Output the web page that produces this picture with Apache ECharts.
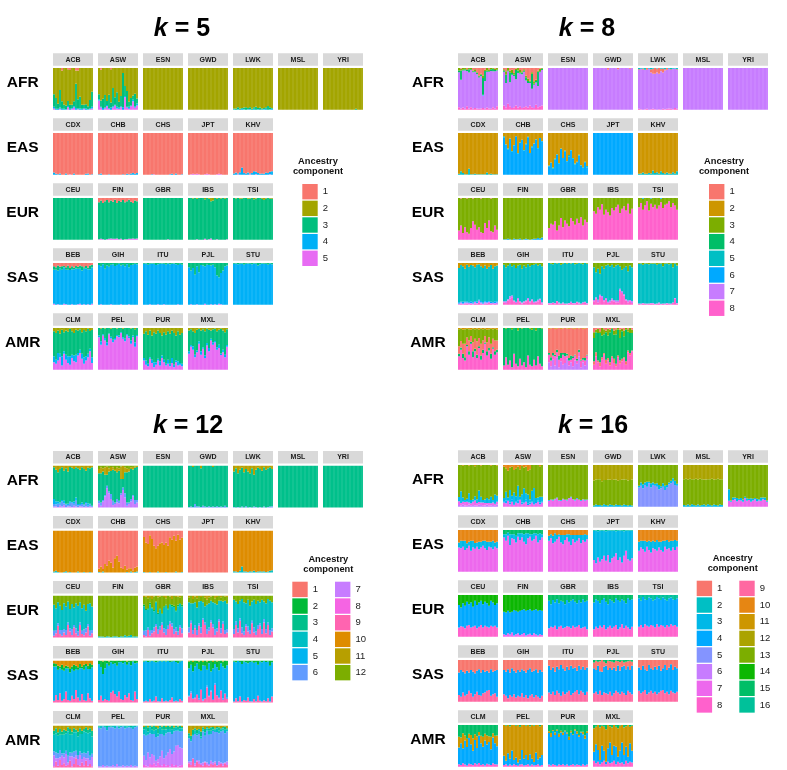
<!DOCTYPE html>
<html><head><meta charset="utf-8">
<style>html,body{margin:0;background:#fff}#c{width:787px;height:770px;filter:blur(0.45px)}</style>
<script src="https://cdn.jsdelivr.net/npm/echarts@6/dist/echarts.min.js"></script>
</head><body><div id="c"></div>
<script>
// Population labels per row and group names
const groups = ['AFR','EAS','EUR','SAS','AMR'];
const popAFR = ['ACB','ASW','ESN','GWD','LWK','MSL','YRI'];
const popEAS = ['CDX','CHB','CHS','JPT','KHV'];
const popEUR = ['CEU','FIN','GBR','IBS','TSI'];
const popSAS = ['BEB','GIH','ITU','PJL','STU'];
const popAMR = ['CLM','PEL','PUR','MXL'];
const popOrder = [...popAFR,...popEAS,...popEUR,...popSAS,...popAMR];

// Component colours per k
const colorsK5  = ['#F8766D','#A3A500','#00BF7D','#00B0F6','#E76BF3'];
const colorsK8  = ['#F8766D','#CD9600','#7CAE00','#00BE67','#00BFC4','#00A9FF','#C77CFF','#FF61CC'];
const colorsK12 = ['#F8766D','#00BA38','#00C08B','#00BFC4','#00B4F0','#619CFF','#C77CFF','#F564E3','#FF64B0','#DE8C00','#B79F00','#7CAE00'];
const colorsK16 = ['#F8766D','#00BFC4','#00B8E7','#00A9FF','#8494FF','#C77CFF','#ED68ED','#FF61CC','#FF68A1','#E68613','#CD9600','#ABA300','#7CAE00','#0CB702','#00BE67','#00C19A'];

// Each panel: rows from bottom to top, [component, percent per individual...].
// A row holding only its component takes whatever the other rows leave.
// k = 5
const k5_ACB=[[5,3,0,0,2,0,0,0,6,0,2,5,0,1,0,0,2,0,0,1,3],[4,4,2,2,3,2,2,1,3,2,2,3,4,2,3,2,2,3,1,2,4],[3,30,26,12,42,18,10,9,12,10,8,12,58,22,28,10,8,10,7,20,36],[2],[1,0,0,0,0,6,0,0,3,5,0,0,6,6,0,0,0,0,0,0,0]];
const k5_ASW=[[5,22,5,0,3,8,2,0,5,10,3,2,6,0,30,5,2,8,20,5,10],[4,3,2,4,2,3,2,5,3,2,4,3,2,6,3,2,5,2,4,3,5],[3,12,15,22,30,10,32,12,44,18,35,14,25,82,24,38,12,18,10,30,12],[2],[1,0,4,0,0,0,0,3,0,0,0,0,0,0,0,0,0,0,0,0,0]];
const k5_ESN=[[2]];
const k5_GWD=[[2]];
const k5_LWK=[[4,1,0,1,0,2,1,0,1,1,0,2,0,1,0,1,1,2,0,1,2],[3,2,3,5,3,2,4,6,3,5,2,4,7,3,5,2,3,4,9,5,2],[2]];
const k5_MSL=[[2]];
const k5_YRI=[[3,0,0,0,0,0,0,0,0,0,0,0,0,0,0,0,0,2,0,0,0],[2]];
const k5_CDX=[[5,0,0,0,0,0,0,0,0,1,0,0,0,0,0,0,0,0,0,0,0],[4,5,2,1,3,0,0,3,0,0,0,3,0,0,0,0,0,2,3,0,1],[1]];
const k5_CHB=[[4,1,3,0,0,0,1,0,0,0,0,0,0,1,0,2,1,3,4,2,4],[1]];
const k5_CHS=[[5,0,0,0,0,0,1,0,0,0,0,0,0,0,0,0,0,0,0,0,0],[4,0,0,0,0,1,0,0,0,0,0,0,0,0,1,2,0,3,0,0,1],[1]];
const k5_JPT=[[5,0,1,2,1,2,1,0,0,1,2,1,0,0,0,1,2,1,0,0,0],[1]];
const k5_KHV=[[5,0,0,1,0,0,0,0,0,1,0,0,1,0,0,0,0,0,0,1,0],[4,3,5,2,6,17,4,3,5,2,4,8,6,4,2,3,2,5,4,6,8],[1]];
const k5_CEU=[[3]];
const k5_FIN=[[5,1,2,1,0,1,2,3,2,2,3,1,2,0,1,1,2,2,3,2,3],[3],[1,10,6,12,8,5,10,6,9,4,12,7,9,5,10,8,4,9,12,6,8]];
const k5_GBR=[[5,0,0,0,0,0,0,0,0,0,0,0,0,1,0,0,0,0,0,0,0],[3]];
const k5_IBS=[[5,0,0,0,0,1,0,0,0,2,0,1,3,0,0,1,0,0,0,0,1],[3],[2,0,0,1,0,2,0,0,0,3,0,2,8,6,0,2,0,1,0,2,0]];
const k5_TSI=[[3],[2,0,1,0,2,1,0,0,2,1,0,3,1,0,0,2,5,1,0,1,2]];
const k5_BEB=[[5,2,0,1,0,0,2,1,0,0,1,0,0,1,2,0,1,0,1,0,2],[4],[3,8,6,12,5,8,4,6,10,5,7,4,6,5,8,10,4,6,4,9,6],[1,8,10,6,9,8,7,10,6,12,8,11,7,9,6,8,10,7,11,6,5]];
const k5_GIH=[[5,0,1,0,0,0,0,1,0,0,0,0,1,0,0,0,1,0,0,0,0],[4],[3,5,8,3,14,6,9,4,3,7,5,2,6,4,8,3,10,5,4,2,3]];
const k5_ITU=[[5,0,0,0,1,0,0,0,1,0,0,1,0,0,0,0,0,0,1,0,0],[4],[3,2,1,4,2,1,2,5,3,2,1,2,4,1,3,2,1,3,5,2,4]];
const k5_PJL=[[5,0,1,0,0,1,0,0,0,2,0,0,1,0,1,0,2,1,0,0,0],[4],[3,10,18,12,28,8,22,5,6,8,4,5,6,4,10,30,34,24,18,8,6]];
const k5_STU=[[4],[3,2,1,3,2,1,4,2,1,2,3,1,2,6,3,1,2,2,4,1,3]];
const k5_CLM=[[5,18,14,22,30,10,38,24,16,12,28,20,18,34,40,26,14,22,30,44,16],[4,14,10,18,8,22,6,12,16,20,8,14,18,6,8,12,16,10,8,6,14],[3],[2,8,12,6,14,4,10,6,9,2,8,12,4,6,3,10,5,8,2,7,5]];
const k5_PEL=[[5,78,60,82,70,58,85,75,66,72,80,78,88,74,68,82,76,62,78,55,80],[4,4,8,3,6,8,2,4,6,4,3,4,2,4,6,3,4,8,4,10,3],[3],[2,0,2,0,1,0,0,2,0,0,1,0,0,2,0,0,0,1,0,3,0]];
const k5_PUR=[[5,22,12,8,26,16,6,12,22,10,28,18,10,14,8,16,6,18,10,12,8],[4,6,10,6,4,8,12,6,4,10,6,6,4,10,6,12,6,4,10,4,6],[3],[2,14,8,16,6,18,10,14,6,12,18,10,16,8,14,6,12,18,8,16,12]];
const k5_MXL=[[5,38,55,48,30,42,62,36,50,28,58,44,70,60,65,48,52,35,42,30,55],[4,6,4,8,6,4,6,8,4,6,6,8,4,6,4,6,8,4,6,6,4],[3],[2,6,3,8,12,4,2,6,3,8,2,4,6,3,2,8,4,2,6,10,3]];
const k5Panels=[k5_ACB,k5_ASW,k5_ESN,k5_GWD,k5_LWK,k5_MSL,k5_YRI,k5_CDX,k5_CHB,k5_CHS,k5_JPT,k5_KHV,k5_CEU,k5_FIN,k5_GBR,k5_IBS,k5_TSI,k5_BEB,k5_GIH,k5_ITU,k5_PJL,k5_STU,k5_CLM,k5_PEL,k5_PUR,k5_MXL];
// k = 8
const k8_ACB=[[8,6,3,5,2,8,3,6,2,4,3,2,3,4,2,5,3,2,6,3,8],[7],[6,0,0,0,0,0,0,0,0,0,0,0,0,2,0,0,0,0,0,0,0],[4,4,22,2,3,2,8,2,2,2,3,3,4,40,24,3,2,4,6,3,2],[3,6,4,4,3,2,3,3,2,4,2,2,2,6,3,6,4,3,2,3,4],[1,0,2,0,0,3,0,0,6,3,10,18,14,18,4,0,3,0,0,2,0]];
const k8_ASW=[[8,10,6,14,8,4,6,10,5,8,4,6,8,5,10,6,4,12,6,8,10],[7],[4,3,20,2,24,4,3,22,6,2,4,3,8,5,3,36,2,4,34,2,3],[3,3,8,6,4,8,4,3,6,6,3,3,4,6,3,4,6,3,3,6,2],[1,3,8,0,6,4,12,2,0,5,8,3,18,25,30,10,32,28,6,2,0]];
const k8_ESN=[[7]];
const k8_GWD=[[7],[1,0,0,0,0,0,0,0,4,0,0,0,0,3,0,0,0,0,0,2,0]];
const k8_LWK=[[8,2,1,0,1,2,0,1,2,1,0,1,0,2,1,2,3,2,1,4,2],[7],[1,2,0,3,0,4,0,8,12,14,10,14,6,10,3,4,0,2,0,0,2],[5,3,2,1,4,0,2,3,2,0,1,0,2,1,3,0,2,3,2,1,3]];
const k8_MSL=[[7]];
const k8_YRI=[[7]];
const k8_CDX=[[5,2,8,4,1,1,14,1,1,2,1,1,1,1,1,5,1,2,1,1,1],[2]];
const k8_CHB=[[6,90,72,60,86,55,70,92,50,76,84,58,72,90,52,66,74,84,62,88,80],[5,2,1,3,1,2,1,0,2,1,0,1,2,1,0,2,1,1,2,0,1],[2]];
const k8_CHS=[[6,20,28,14,36,48,26,62,40,56,32,44,58,38,24,30,46,22,16,30,18],[5,2,1,3,2,1,2,1,0,2,1,3,1,2,3,1,2,1,2,1,3],[2]];
const k8_JPT=[[6]];
const k8_KHV=[[5,2,3,5,2,2,4,3,10,4,6,3,8,4,2,5,3,2,6,3,8],[2]];
const k8_CEU=[[8,22,34,16,30,18,14,28,44,36,24,30,18,16,40,28,46,20,18,34,24],[3],[1,0,1,0,0,1,0,0,1,0,0,0,1,0,0,0,0,1,0,0,0]];
const k8_FIN=[[6,1,1,2,1,0,2,1,1,2,0,1,2,1,0,1,2,2,4,3,5],[3]];
const k8_GBR=[[8,28,38,36,44,22,34,52,30,46,38,32,52,44,36,50,40,54,34,48,42],[3]];
const k8_IBS=[[8,68,62,78,72,85,60,72,66,58,76,70,78,84,64,74,80,70,86,62,74],[3]];
const k8_TSI=[[8,78,88,72,82,92,70,86,78,84,74,82,90,76,84,86,92,78,88,82,72],[3],[6,0,0,2,0,0,0,1,0,0,0,0,2,0,0,0,0,0,0,0,0]];
const k8_BEB=[[8,1,2,1,2,3,1,2,1,3,2,6,2,1,2,3,4,2,1,2,1],[7,2,3,2,3,2,3,2,2,4,2,4,3,2,4,2,3,2,3,2,4],[6,3,2,4,2,3,2,4,3,2,3,2,4,3,2,4,2,3,2,4,3],[5],[2,12,5,8,14,4,9,5,6,10,4,3,8,12,6,14,9,5,14,8,6]];
const k8_GIH=[[8,6,4,10,14,18,8,4,12,6,3,5,8,12,6,10,4,6,8,12,3],[7,2,4,3,6,4,2,3,4,2,2,3,2,4,2,3,3,2,4,2,3],[5],[3,4,10,6,2,8,5,12,6,4,14,6,10,3,8,5,4,2,6,3,8]];
const k8_ITU=[[8,3,2,4,2,8,3,2,3,2,1,3,4,3,2,6,3,2,4,6,2],[7,1,2,1,2,1,2,1,2,1,2,1,3,1,2,1,2,1,2,1,2],[5],[3,0,2,3,0,1,0,4,2,0,2,0,1,0,3,2,0,1,3,0,2]];
const k8_PJL=[[8,8,14,6,20,16,8,12,4,6,10,8,6,6,34,28,22,10,6,8,4],[7,3,4,6,4,5,3,4,3,4,5,3,4,4,4,4,3,3,4,3,5],[5],[3,10,22,14,26,8,14,6,4,8,4,10,6,4,8,16,12,8,20,6,10]];
const k8_STU=[[8,2,1,3,2,1,2,3,2,1,2,3,1,2,1,3,2,1,4,14,3],[7,1,2,1,1,2,1,1,2,1,1,2,1,1,2,1,1,2,1,2,1],[5],[3,2,1,4,1,2,3,1,2,1,4,2,1,8,2,1,3,1,10,1,6]];
const k8_CLM=[[8,32,48,28,22,56,36,62,30,44,28,52,24,40,62,34,46,26,50,36,42],[4,6,5,10,8,3,8,5,14,6,8,4,10,8,3,10,6,12,4,8,6],[1,18,16,24,32,18,26,14,22,24,32,20,28,22,16,22,26,24,20,26,22],[3],[2,3,2,4,3,2,3,4,2,3,2,4,2,3,2,4,3,2,3,2,4]];
const k8_PEL=[[8,10,30,12,22,6,38,14,8,26,10,18,6,34,12,8,24,10,32,14,8],[4],[3,0,2,0,0,3,0,0,6,0,2,0,0,0,2,4,0,6,0,0,2]];
const k8_PUR=[[7,18,8,24,10,30,6,20,12,16,26,10,18,8,22,14,32,6,18,10,24],[8,18,14,10,22,12,18,8,24,16,8,12,6,20,12,8,10,16,6,12,10],[4,4,8,6,4,6,10,12,4,8,4,6,10,4,2,4,6,2,4,6,2],[1],[2,2,1,0,2,1,0,2,1,0,1,2,0,1,2,0,1,0,2,1,0]];
const k8_MXL=[[8,12,32,18,8,24,36,14,22,10,28,16,8,30,14,20,26,12,42,34,44],[1,8,10,4,10,6,4,10,6,8,4,10,6,4,8,6,4,8,4,6,2],[4],[3,14,6,10,4,18,12,4,16,6,2,10,12,4,20,6,14,4,6,12,8],[1,10,4,2,8,0,3,6,2,4,0,6,3,0,4,2,6,0,3,0,4]];
const k8Panels=[k8_ACB,k8_ASW,k8_ESN,k8_GWD,k8_LWK,k8_MSL,k8_YRI,k8_CDX,k8_CHB,k8_CHS,k8_JPT,k8_KHV,k8_CEU,k8_FIN,k8_GBR,k8_IBS,k8_TSI,k8_BEB,k8_GIH,k8_ITU,k8_PJL,k8_STU,k8_CLM,k8_PEL,k8_PUR,k8_MXL];
// k = 12
const k12_ACB=[[7,2,3,1,4,2,6,1,2,3,1,4,2,1,3,2,1,2,1,2,1],[6,6,4,8,5,12,4,6,4,8,10,5,14,4,3,6,4,8,3,5,2],[5,12,8,5,3,4,6,2,3,4,2,5,8,3,2,4,2,3,6,2,1],[3],[11,4,10,16,8,4,12,6,14,3,5,8,4,6,10,4,8,12,5,6,4]];
const k12_ASW=[[7,10,4,14,26,46,34,20,6,8,12,10,30,42,24,4,8,14,26,8,12],[6,6,8,4,4,6,4,12,10,4,8,6,4,6,10,8,4,6,4,10,6],[3],[11,10,14,8,18,20,8,10,6,4,12,6,30,32,12,10,6,4,6,3,2],[12,8,4,6,4,2,6,3,4,8,4,6,2,0,4,6,8,4,3,2,1]];
const k12_ESN=[[3]];
const k12_GWD=[[6,1,2,1,8,3,2,1,4,2,1,3,1,2,1,3,1,2,1,4,1],[3],[11,0,0,3,0,0,0,6,0,0,0,0,0,3,0,0,0,0,0,0,0]];
const k12_LWK=[[6,1,0,1,0,2,0,3,0,1,0,2,1,0,1,0,2,0,1,2,3],[3],[11,14,6,18,10,5,16,8,14,18,6,22,10,5,8,12,4,10,6,4,8]];
const k12_MSL=[[3]];
const k12_YRI=[[3]];
const k12_CDX=[[4,2,4,1,0,0,1,3,0,1,0,0,0,2,0,0,1,0,0,1,0],[10]];
const k12_CHB=[[4,1,0,2,0,0,0,0,0,0,0,0,0,0,0,1,0,2,0,1,2],[10,8,14,6,20,16,28,24,12,34,40,26,12,8,16,6,10,8,5,10,12],[1]];
const k12_CHS=[[4,1,0,0,1,0,0,0,2,0,0,0,1,0,0,0,0,2,0,0,1],[10,84,72,68,88,80,64,58,62,70,72,66,70,64,84,78,88,74,90,78,82],[1]];
const k12_JPT=[[1]];
const k12_KHV=[[4,3,2,1,4,14,3,2,1,3,2,4,1,2,3,2,3,1,2,4,5],[10]];
const k12_CEU=[[9,4,10,28,8,4,12,6,30,14,6,24,10,4,30,8,5,12,26,4,10],[6,12,8,6,10,14,8,12,6,8,14,6,12,10,6,8,14,10,6,12,8],[4],[12,22,30,16,24,34,18,26,14,32,20,28,18,24,16,30,22,36,20,18,26]];
const k12_FIN=[[4,3,2,2,1,3,2,1,2,3,2,1,3,2,5,3,4,6,2,3,2],[12]];
const k12_GBR=[[9,6,3,18,4,10,14,26,8,18,30,12,6,20,32,26,8,14,6,24,10],[6,10,14,6,12,8,10,6,12,8,6,10,14,8,6,8,12,10,8,6,12],[4],[2,4,2,3,4,2,3,2,4,3,2,4,2,3,2,4,3,2,3,2,4],[12,18,30,24,14,20,32,14,36,28,42,22,16,30,18,14,24,32,20,14,22],[11,3,2,6,3,8,2,0,4,2,0,3,6,0,2,8,0,3,2,4,0]];
const k12_IBS=[[9,12,34,8,22,6,28,10,42,30,8,16,36,24,6,14,38,10,32,8,12],[6,12,6,10,8,12,6,14,4,6,12,8,6,8,14,8,6,12,6,10,8],[4],[12,12,18,10,14,22,14,10,16,20,12,14,10,16,12,18,12,8,14,10,16],[11,4,0,8,2,6,0,3,0,5,10,4,2,0,6,3,0,4,0,2,3]];
const k12_TSI=[[9,8,30,12,40,10,6,26,14,8,34,12,6,20,28,8,36,10,30,6,14],[6,12,8,10,6,14,8,6,12,10,6,12,8,10,6,12,8,10,6,12,8],[4],[12,10,14,20,12,8,16,18,10,24,14,10,20,12,16,10,14,18,8,12,16]];
const k12_BEB=[[9,4,18,6,22,4,8,26,6,4,16,8,30,12,4,20,6,4,22,10,4],[5],[2,8,6,10,4,12,8,6,5,10,6,14,8,6,10,4,12,6,8,14,6],[10,6,8,12,14,10,16,12,14,18,14,10,12,16,8,14,10,8,12,6,10]];
const k12_GIH=[[9,6,16,4,8,6,4,24,28,20,14,26,8,6,18,12,22,6,4,26,8],[5],[2,8,14,30,18,6,10,4,8,5,12,4,2,6,3,8,4,10,2,6,4],[11,0,1,2,0,1,2,0,0,1,0,0,1,0,0,2,0,1,0,0,1]];
const k12_ITU=[[9,2,4,2,8,2,4,14,3,2,10,2,4,2,6,12,2,4,2,8,4],[5],[2,2,1,3,2,1,2,4,2,1,2,1,2,1,3,2,1,3,6,2,1]];
const k12_PJL=[[9,14,22,8,10,18,6,30,4,8,36,14,26,6,42,16,10,28,6,20,8],[6,2,4,2,3,2,4,2,3,2,4,2,3,2,4,2,3,2,4,2,3],[5],[2,16,10,22,14,6,18,24,8,12,20,5,26,16,8,14,22,6,12,18,10],[11,2,0,3,0,1,2,0,3,0,2,1,0,3,0,2,1,0,2,0,1]];
const k12_STU=[[9,2,10,3,14,2,6,4,12,3,2,8,3,16,4,2,5,3,10,2,14],[5],[2,2,4,1,3,8,2,4,6,3,2,5,3,10,2,4,1,3,2,12,4]];
const k12_CLM=[[9,3,14,4,18,6,10,4,6,16,3,8,22,6,4,12,5,16,4,8,3],[7,26,8,18,6,22,14,28,6,10,24,16,6,14,26,8,20,6,18,10,22],[6,10,14,12,18,6,10,8,16,10,8,14,12,10,8,14,10,12,16,10,8],[4],[3,10,12,8,14,8,12,6,10,14,8,10,6,12,14,8,6,12,8,10,14],[11,12,6,16,8,14,10,12,4,8,14,6,10,14,6,12,8,4,10,6,12]];
const k12_PEL=[[7,3,2,6,2,4,2,3,6,2,8,3,2,5,2,4,3,6,2,4,3],[6],[4,3,6,2,4,8,3,2,4,6,2,5,3,2,6,3,4,2,8,3,2],[3,2,1,0,1,3,0,2,0,1,0,2,1,0,1,2,0,3,0,1,0]];
const k12_PUR=[[8,6,4,2,8,6,10,4,12,6,4,8,4,6,2,8,4,6,2,4,6],[7,22,14,34,16,26,18,12,8,20,36,14,24,30,42,24,34,46,52,44,40],[6],[4,12,16,8,14,10,8,18,8,16,10,14,10,8,8,10,6,8,4,8,6],[3,6,8,10,4,8,12,6,12,4,8,10,6,8,6,10,4,4,6,6,4],[11,3,0,4,0,2,0,3,6,0,2,0,3,0,2,0,4,0,2,0,3]];
const k12_MXL=[[9,10,6,20,4,14,8,6,4,12,6,4,8,6,10,4,6,8,4,10,6],[7,4,8,2,6,4,8,4,8,2,6,4,8,6,4,2,8,4,6,2,8],[6],[4,6,5,4,8,5,8,5,4,8,5,10,8,4,5,8,6,4,5,8,4],[3,6,8,10,6,8,4,12,6,8,4,6,8,6,4,4,8,4,4,8,4],[11,18,24,10,6,10,8,14,4,8,3,6,4,3,6,3,4,6,3,2,6]];
const k12Panels=[k12_ACB,k12_ASW,k12_ESN,k12_GWD,k12_LWK,k12_MSL,k12_YRI,k12_CDX,k12_CHB,k12_CHS,k12_JPT,k12_KHV,k12_CEU,k12_FIN,k12_GBR,k12_IBS,k12_TSI,k12_BEB,k12_GIH,k12_ITU,k12_PJL,k12_STU,k12_CLM,k12_PEL,k12_PUR,k12_MXL];
// k = 16
const k16_ACB=[[6,4,2,6,3,2,5,2,4,3,2,6,4,2,3,5,2,3,4,2,5],[7,9,7,6,8,10,5,6,8,12,7,5,6,8,6,4,7,5,6,5,7],[3,10,28,10,5,7,22,8,5,10,9,28,14,6,8,12,9,16,6,22,14],[13],[11,0,0,2,0,0,2,0,0,3,0,0,2,0,0,0,0,2,0,0,2]];
const k16_ASW=[[7,10,8,14,6,12,4,10,8,16,6,8,12,4,6,10,5,8,12,6,10],[4,3,6,2,4,6,2,3,6,2,4,2,6,3,4,2,6,3,2,4,2],[3,8,22,6,30,8,28,12,36,6,20,34,14,22,8,26,34,10,8,14,12],[13],[10,4,8,14,6,4,12,8,4,10,2,6,4,14,10,0,0,0,0,3,0]];
const k16_ESN=[[7,14,16,15,18,20,15,14,18,16,15,20,22,17,15,19,16,14,17,15,16],[3,2,1,2,1,2,1,2,1,1,2,1,2,1,2,2,1,2,1,2,1],[13]];
const k16_GWD=[[3,3,5,4,4,3,6,4,3,5,4,3,5,4,4,3,5,4,3,4,3],[13,60,60,62,62,58,58,60,62,60,60,62,60,58,60,62,60,62,60,60,62],[12]];
const k16_LWK=[[5,46,50,44,52,48,56,46,52,50,48,42,44,48,40,46,54,56,60,52,50],[3,4,8,10,6,12,4,10,6,5,8,10,5,8,10,6,4,6,8,10,5],[13]];
const k16_MSL=[[3,4,3,5,3,6,4,3,5,3,4,5,3,6,4,3,5,4,3,5,4],[13,62,64,60,64,60,62,64,60,64,62,60,62,60,62,64,60,62,64,60,62],[12]];
const k16_YRI=[[7,14,12,16,18,13,16,15,12,20,14,16,12,15,18,13,15,14,18,16,12],[3,28,3,6,4,8,3,6,5,4,6,3,8,4,3,6,3,8,4,6,3],[13]];
const k16_CDX=[[7,58,56,60,52,56,62,50,58,55,60,54,58,62,56,52,60,58,54,60,56],[3,12,18,14,22,12,10,24,16,14,10,18,14,12,18,20,12,14,20,10,16],[10]];
const k16_CHB=[[7,82,74,86,64,80,78,70,84,76,82,72,66,80,84,74,78,86,70,76,82],[3,8,16,8,26,10,12,16,8,16,10,18,26,12,6,16,14,6,20,16,8],[15]];
const k16_CHS=[[7,74,80,68,72,78,84,70,66,76,82,72,64,78,70,74,80,68,76,72,78],[3,12,10,18,20,10,6,18,22,12,8,18,24,10,18,14,8,20,12,18,10],[10]];
const k16_JPT=[[7,28,20,34,24,30,38,26,40,22,32,36,44,28,34,22,38,50,30,26,32],[3],[16,2,1,3,1,2,1,3,2,1,2,1,3,2,1,2,3,1,2,1,2]];
const k16_KHV=[[7,50,58,54,48,60,52,46,56,54,50,58,52,48,60,54,56,50,58,52,60],[3,22,16,20,26,12,22,26,18,18,26,14,20,26,14,22,16,24,16,24,14],[10]];
const k16_CEU=[[8,22,25,24,20,26,28,22,24,26,20,24,28,22,26,24,22,26,24,26,22],[4],[14,24,30,20,26,16,22,18,28,14,24,18,14,22,16,20,26,14,18,24,20]];
const k16_FIN=[[7,6,4,8,5,10,3,6,8,4,6,9,3,5,7,4,8,5,3,6,4],[4],[14,40,42,38,42,40,36,38,40,38,36,34,38,36,34,38,36,34,38,36,38]];
const k16_GBR=[[8,20,24,22,26,18,24,26,20,22,25,24,20,26,22,24,28,20,22,24,18],[4],[15,14,22,12,18,10,20,14,16,22,12,18,14,10,16,20,12,18,10,16,14]];
const k16_IBS=[[8,18,24,20,26,22,28,18,22,26,20,24,28,18,22,30,20,26,22,18,24],[4],[15,18,10,14,20,12,8,16,22,10,14,18,8,12,16,10,14,20,8,12,10]];
const k16_TSI=[[8,24,28,22,30,26,24,28,26,22,30,24,28,26,22,28,24,30,26,28,24],[4],[16,8,14,5,10,12,6,8,14,10,5,8,12,6,10,14,8,6,10,12,8]];
const k16_BEB=[[9,16,12,22,14,18,26,20,12,18,24,16,14,20,22,26,28,14,18,20,12],[4],[1,30,24,28,32,26,30,24,28,32,26,22,30,24,28,26,30,22,28,26,24]];
const k16_GIH=[[9,18,14,8,16,12,18,10,14,12,20,10,16,8,14,18,10,16,12,8,14],[4],[1,24,28,22,30,20,26,30,24,28,22,26,30,24,20,28,26,22,30,24,28]];
const k16_ITU=[[9,22,18,24,16,26,20,14,24,18,22,26,16,20,24,28,18,26,22,16,24],[4],[1,14,24,18,28,16,22,12,20,26,16,24,14,20,18,26,14,22,16,24,18]];
const k16_PJL=[[9,20,24,18,26,16,22,20,18,24,14,20,26,22,18,24,20,16,26,22,18],[4],[1,14,22,10,24,28,12,6,22,16,20,12,24,10,20,14,8,18,12,22,10],[15,6,2,4,3,0,4,8,2,3,4,6,2,3,5,2,6,4,3,2,4]];
const k16_STU=[[9,26,20,24,28,18,22,26,20,24,18,22,26,28,20,24,18,26,22,20,24],[4],[1,18,24,14,22,26,12,20,24,16,22,14,26,20,12,24,18,10,24,16,20]];
const k16_CLM=[[8,6,4,8,5,3,7,6,4,8,5,9,4,6,3,7,5,4,8,6,5],[4,40,52,36,58,44,62,48,34,56,40,66,52,42,60,46,54,38,62,50,44],[11,26,14,36,12,20,10,22,30,14,28,8,18,24,16,22,14,30,10,18,26],[15]];
const k16_PEL=[[8,4,6,2,5,3,6,4,2,5,6,3,4,6,2,5,3,4,6,2,4],[4,22,8,30,14,36,10,18,8,12,34,16,24,10,28,14,8,30,12,20,24],[11],[15,0,2,0,3,0,0,2,0,4,0,0,2,0,3,0,2,0,0,3,0]];
const k16_PUR=[[8,5,3,6,4,2,5,4,6,3,5,2,4,6,3,5,4,2,6,3,5],[4,76,68,80,72,84,66,78,70,82,74,62,78,70,84,74,68,80,72,64,76],[11,4,10,2,6,3,8,4,6,2,3,8,4,2,3,6,4,2,6,8,4],[15]];
const k16_MXL=[[8,14,8,12,6,10,14,6,12,8,10,14,6,12,8,10,6,14,8,12,10],[4,22,46,28,10,40,24,6,32,50,18,36,42,12,30,48,22,34,16,44,28],[11],[15,8,4,0,6,2,4,10,0,3,6,0,4,8,2,0,6,3,0,4,2]];
const k16Panels=[k16_ACB,k16_ASW,k16_ESN,k16_GWD,k16_LWK,k16_MSL,k16_YRI,k16_CDX,k16_CHB,k16_CHS,k16_JPT,k16_KHV,k16_CEU,k16_FIN,k16_GBR,k16_IBS,k16_TSI,k16_BEB,k16_GIH,k16_ITU,k16_PJL,k16_STU,k16_CLM,k16_PEL,k16_PUR,k16_MXL];

const individuals = [...Array(20).keys()];
const rowSizes = [7,5,5,5,4];
const PW=40, PH=41.7, DX=45.08, DY=65;

const layouts = [
 {key:'k5', title:'5', panels:k5Panels, colors:colorsK5,  x:52.7, y:68,    tx:182, ty:29,  gx:22.7, lt:[318,162], leg:[[302.3,184,1,5]]},
 {key:'k8', title:'8', panels:k8Panels, colors:colorsK8,  x:458,  y:68,    tx:587, ty:29,  gx:428,  lt:[724,162], leg:[[709,184,1,8]]},
 {key:'k12',title:'12',panels:k12Panels,colors:colorsK12, x:52.7, y:465.7, tx:188, ty:426.5, gx:22.7, lt:[328.3,560], leg:[[292.3,581.7,1,6],[335,581.7,7,12]]},
 {key:'k16',title:'16',panels:k16Panels,colors:colorsK16, x:458,  y:465,   tx:593, ty:426, gx:428,  lt:[732.7,559], leg:[[696.7,580.7,1,8],[739.3,580.7,9,16]]}
];

function lighten(hex){
  const n=parseInt(hex.slice(1),16), f=c=>Math.round(c+(255-c)*0.07);
  return `rgb(${f(n>>16&255)},${f(n>>8&255)},${f(n&255)})`;
}

const grids=[],xAxes=[],yAxes=[],series=[],titles=[],legends=[],strips=[];

// Empty legend-only series come first so each legend key takes its plain colour
layouts.forEach(L=>{
  L.colors.forEach((c,i)=>series.push({type:'line',name:`${L.key}:${i+1}`,data:[],xAxisIndex:0,yAxisIndex:0,itemStyle:{color:c,borderWidth:0},lineStyle:{color:c}}));
});

layouts.forEach(L=>{
  titles.push({text:`{i|k} = ${L.title}`,left:L.tx,top:L.ty,textAlign:'center',textVerticalAlign:'middle',padding:0,
    textStyle:{fontFamily:'Liberation Sans',fontSize:25,fontWeight:'bold',color:'#000',rich:{i:{fontFamily:'Liberation Sans',fontSize:25,fontWeight:'bold',fontStyle:'italic',color:'#000'}}}});
  titles.push({text:'Ancestry\ncomponent',left:L.lt[0],top:L.lt[1]+4.5,textAlign:'center',textVerticalAlign:'middle',padding:0,
    textStyle:{fontFamily:'Liberation Sans',fontSize:9.3,fontWeight:'bold',color:'#111',lineHeight:9.5}});
  let p=0;
  rowSizes.forEach((n,r)=>{
    const py=L.y+r*DY;
    titles.push({text:groups[r],left:L.gx,top:py+14.7,textAlign:'center',textVerticalAlign:'middle',padding:0,
      textStyle:{fontFamily:'Liberation Sans',fontSize:15.5,fontWeight:'bold',color:'#000'}});
    for(let c=0;c<n;c++,p++){
      const idx=grids.length, rows=L.panels[p], gl=Math.round(L.x+c*DX);
      grids.push({left:gl,top:py,width:PW,height:PH});
      strips.push({type:'rect',silent:true,z:-1,shape:{x:gl,y:py-14.7,width:PW,height:12.5},style:{fill:'#d9d9d9'}});
      xAxes.push({gridIndex:idx,type:'category',data:individuals,position:'top',
        name:popOrder[p],nameLocation:'middle',nameGap:8.4,
        nameTextStyle:{fontFamily:'Liberation Sans',fontSize:7,fontWeight:'bold',color:'#1a1a1a',verticalAlign:'middle'},
        axisLine:{show:false},axisTick:{show:false},axisLabel:{show:false},splitLine:{show:false}});
      yAxes.push({gridIndex:idx,type:'value',min:0,max:100,show:false});
      rows.forEach(row=>{
        const comp=row[0];
        let vals;
        if(row.length>1) vals=row.slice(1);
        else vals=individuals.map(i=>100-rows.reduce((s,o)=>s+(o.length>1?o[i+1]:0),0));
        const col=L.colors[comp-1], light=lighten(col);
        series.push({type:'bar',name:`${L.key}:${comp}`,xAxisIndex:idx,yAxisIndex:idx,stack:'p'+idx,
          data:vals,barWidth:'100%',silent:true,
          itemStyle:{color:q=>q.dataIndex%2?light:col}});
      });
    }
  });
  L.leg.forEach(([lx,ly,a,b])=>{
    const names=[];for(let i=a;i<=b;i++)names.push(`${L.key}:${i}`);
    legends.push({data:names,orient:'vertical',left:lx,top:ly,padding:0,itemWidth:15.4,itemHeight:15.4,itemGap:1.25,
      selectedMode:false,icon:'rect',formatter:s=>s.split(':')[1],
      textStyle:{fontFamily:'Liberation Sans',fontSize:9.5,color:'#222'}});
  });
});

const chart=echarts.init(document.getElementById('c'),null,{renderer:'canvas',width:787,height:770});
chart.setOption({animation:false,backgroundColor:'#fff',title:titles,legend:legends,grid:grids,xAxis:xAxes,yAxis:yAxes,series:series,tooltip:{show:false},graphic:{elements:strips}});
</script></body></html>
